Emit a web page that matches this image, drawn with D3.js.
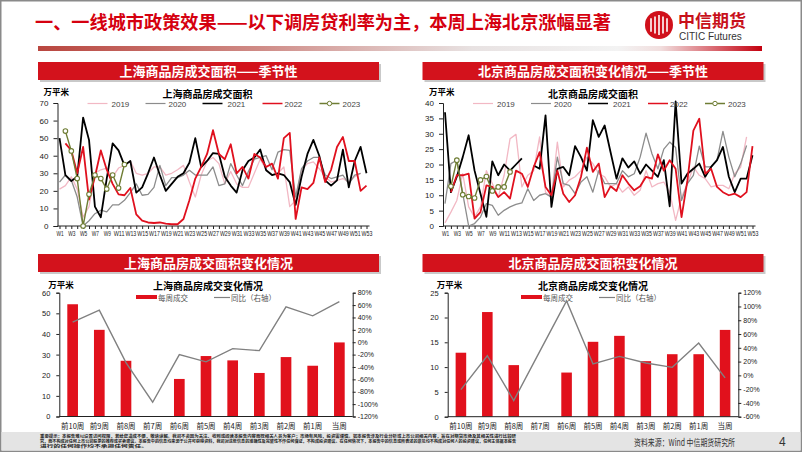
<!DOCTYPE html>
<html><head><meta charset="utf-8">
<script src="https://cdn.jsdelivr.net/npm/d3@7"></script>
<style>
body{margin:0;background:#fff}
svg{display:block}
text{font-family:"Liberation Sans","Noto Sans CJK SC",sans-serif}
.cn{font-family:"Noto Sans CJK SC","Liberation Sans",sans-serif}
</style></head><body>
<svg id="c" width="802" height="452"></svg>
<script>
// ---------------- DATA ----------------
const weeks = ["W1","W2","W3","W4","W5","W6","W7","W8","W9","W10","W11","W12","W13","W14","W15","W16","W17","W18","W19","W20","W21","W22","W23","W24","W25","W26","W27","W28","W29","W30","W31","W32","W33","W34","W35","W36","W37","W38","W39","W40","W41","W42","W43","W44","W45","W46","W47","W48","W49","W50","W51","W52","W53"];
const seasonYears = ["2019","2020","2021","2022","2023"];

const sh2019 = [21,23,28,21,5,11,30,32,33,28,33,34.5,37,30,29,30,33.6,33.6,29,30,32,34.5,25,16.5,29,37,39,35.5,24,31,24,22,22,30,38,32,29,30,33.6,11,14.6,32,35.5,36.5,32.6,28,25,26,27,25,28,30,null];
const sh2020 = [25,29,26,16.5,0,3,7,9,8,12,12,14.6,19,24,17.5,18,22,34.5,23,27.5,27.5,29,31.7,29,29,29,33.6,23,24,35.5,29,23,31,38,39,40,32,42,43.5,43,16.5,32.6,37,39,39,29,27,28,29,24,29,30,null];
const sh2021 = [50,29,25.6,28,61.7,49,11,5,27,47,43,34.5,37,19,22,30,39,29,20,24,28,30,36,50,33.5,37,41.5,41,28,23,19,31.7,37,39,43.5,31.7,29,30,29,25,12,28,41,49,40,26,23,26,43.5,22,37,45,30];
const sh2022 = [null,47,43,30,45,15,28,43,32,24,18,17.5,21.6,6.6,3,2,1.7,2,1.3,1,1,4,14.6,27,33.6,41,54.5,41,38,46.5,30,33.6,27,41,39,33.6,35.5,27,50,53,4,22,21,24.5,39,25,32,45,50.7,37,37,20,23];
const sh2023 = [null,54,42.7,27,0,18,29,27,21,29,21.6,35];

const bj2019 = [1,4.5,8.3,17,6.2,2.9,6.2,18,13.8,9.4,16.5,28.4,29.8,12.7,16.5,18,29,11,9.4,27.3,12.7,14.9,16,18,22.4,20.3,17,16,12.7,13.8,11,12.7,10,11.6,18,12.7,13.8,14.3,11,1.8,9.4,13.8,19.2,16.5,15.4,12.7,13.2,13.2,12.1,17,19.2,29,null];
const bj2020 = [7.3,20.3,21.4,10.5,0,0.8,2.9,7.3,6.7,3.5,5.1,6.2,7,7.5,12.1,8.3,10,10.5,9.4,22.4,13.8,13.2,10.5,14.3,16,11,18,13.8,13.8,13.8,18,16,17,22.4,30.2,23.5,18.6,25,27.3,25.5,8.3,13.8,16.5,26,19.2,19.2,21.4,30.8,22.4,16,20.3,26.2,null];
const bj2021 = [37,11,16,22.4,29.5,18,10.5,3,21,16.5,20,18,20,22,null,19.7,18.6,36,6.2,18.6,19.2,16.5,26,22.4,18,34.4,29,32.7,24,15.4,22,19,21,17,20,18,16,21.4,6.4,40.5,13.8,17,18.6,20.3,16,19.2,21.4,25.7,16,11,15.4,15.4,23];
const bj2022 = [null,11,16.5,16.5,17,2.4,4.5,13.2,12.7,9.4,11,8.9,18,17,12.7,19.2,24,12.7,10,18,10.5,7.8,10,16,25.5,17.6,20.3,9.4,12.9,11.4,16.5,13.8,11.6,12.9,16,15.4,23.3,18,21.4,18.6,2.9,14.9,31,34.9,17,18.6,12.7,11,10,10.5,9.4,11,26];
const bj2023 = [null,12.9,21.4,10.2,9.6,9.1,15,16.1,11.4,12.7,12.7,17.6];

const periods = ["前10周","前9周","前8周","前7周","前6周","前5周","前4周","前3周","前2周","前1周","当周"];
const shWeekly = [54.4,42,27,0,18.2,29.3,27.2,21.1,28.8,24.6,35.9];
const shYoY = [32.5,51.7,-33,-97,-20,-31.7,-10.4,-13.6,57,42.6,65.6];
const bjWeekly = [12.9,21.1,10.4,0,8.9,15.1,16.3,11.2,12.6,12.6,17.5];
const bjYoY = [-20.6,28.5,-36.5,36,108,16.5,27.5,18,11.6,46.9,-3.7];

const shLeftTicks = [0,10,20,30,40,50,60];
const shRightTicks = [-120,-100,-80,-60,-40,-20,0,20,40,60,80];
const bjLeftTicks = [0,5,10,15,20,25];
const bjRightTicks = [-60,-40,-20,0,20,40,60,80,100,120];
const shSeasonTicks = [0,10,20,30,40,50,60,70];
const bjSeasonTicks = [0,5,10,15,20,25,30,35,40];

// ---------------- STYLE ----------------
const RED = "#e1111c", HEAD = "#d3121c";
const yearColors = {"2019":"#f2b8c4","2020":"#8c8c8c","2021":"#000000","2022":"#e0101e","2023":"#6f7d34"};
const yearWidths = {"2019":1.3,"2020":1.3,"2021":1.8,"2022":1.8,"2023":1.4};

const svg = d3.select("#c");
svg.append("rect").attr("x",0.75).attr("y",0.75).attr("width",800.5).attr("height",450.5)
  .attr("fill","#fff").attr("stroke","#8a8a8a").attr("stroke-width",1.5);

// title
svg.append("text").attr("class","cn").attr("x",35).attr("y",29).attr("fill","#d5000f")
  .attr("font-size",18).attr("font-weight","bold").attr("textLength",576).attr("lengthAdjust","spacingAndGlyphs")
  .text("一、一线城市政策效果——以下调房贷利率为主，本周上海北京涨幅显著");

// logo
const logo = svg.append("g");
logo.append("circle").attr("cx",659).attr("cy",25).attr("r",14).attr("fill","#d0101b");
[-8,-4,0,4,8].forEach(dx=>{
  logo.append("line").attr("x1",659+dx).attr("x2",659+dx).attr("y1",15+Math.abs(dx)*0.4).attr("y2",35-Math.abs(dx)*0.4)
   .attr("stroke","#fff").attr("stroke-width",1.6);
});
logo.append("text").attr("class","cn").attr("x",678).attr("y",27).attr("font-size",17).attr("font-weight","bold")
  .attr("fill","#c8101a").text("中信期货");
logo.append("text").attr("x",679).attr("y",40).attr("font-size",10).attr("fill","#333").text("CITIC Futures");

// gradient bar
const defs = svg.append("defs");
const lg = defs.append("linearGradient").attr("id","gb").attr("x1","0").attr("x2","1");
[[0,"#b9463f"],[0.3,"#cf8a85"],[0.6,"#e8e2e2"],[0.8,"#f3f3f3"],[0.86,"#f1dede"],[1,"#c4000f"]].forEach(s=>
  lg.append("stop").attr("offset",s[0]).attr("stop-color",s[1]));
svg.append("rect").attr("x",38).attr("y",46).attr("width",724).attr("height",5).attr("fill","url(#gb)");

function header(x0,x1,y0,y1,txt){
  svg.append("rect").attr("x",x0+2).attr("y",y0+2).attr("width",x1-x0).attr("height",y1-y0).attr("fill","#c9c9c9");
  svg.append("rect").attr("x",x0).attr("y",y0).attr("width",x1-x0).attr("height",y1-y0).attr("fill",HEAD);
  svg.append("text").attr("class","cn").attr("x",(x0+x1)/2).attr("y",(y0+y1)/2+4.5).attr("text-anchor","middle")
    .attr("fill","#fff").attr("font-size",13).attr("font-weight","bold").text(txt);
}

function styleAxis(g,fs){
  g.selectAll("path.domain").attr("stroke","#222").attr("stroke-width",1);
  g.selectAll(".tick line").attr("stroke","#222");
  g.selectAll(".tick text").attr("fill","#222").attr("font-size",fs);
}

function seasonal(o){
  header(o.hx0,o.hx0+341,62,80,o.header);
  const x = d3.scalePoint().domain(weeks).range([o.x0,o.x1]);
  const y = d3.scaleLinear().domain([0,o.yMax]).range([226,103]);
  svg.append("text").attr("class","cn").attr("x",o.ax-14).attr("y",95).attr("font-size",8.5).attr("font-weight","bold").text("万平米");
  svg.append("text").attr("class","cn").attr("x",o.ax+150).attr("y",98).attr("text-anchor","middle")
    .attr("font-size",10).attr("font-weight","bold").text(o.title);
  // axes
  const gy = svg.append("g").attr("transform",`translate(${o.ax},0)`)
    .call(d3.axisLeft(y).tickValues(o.ticks).tickSize(4).tickPadding(5).tickFormat(d=>d));
  styleAxis(gy,8);
  const gx = svg.append("g").attr("transform","translate(0,226)")
    .call(d3.axisBottom(x).tickSize(3).tickPadding(2).tickFormat((d,i)=> i%2===0 ? d : ""));
  gx.select("path.domain").remove();
  styleAxis(gx,6.5);
  gx.selectAll(".tick text").each(function(){
    const t = d3.select(this).text();
    if(t) d3.select(this).attr("textLength",t.length*3.6).attr("lengthAdjust","spacingAndGlyphs");
  });
  svg.append("line").attr("x1",o.ax).attr("x2",o.x1+3).attr("y1",226).attr("y2",226).attr("stroke","#222");
  // lines
  const line = d3.line().defined(d=>d!=null).x((d,i)=>x(weeks[i])).y(d=>y(d));
  o.series.forEach((s,k)=>{
    const yr = seasonYears[k];
    svg.append("path").datum(s).attr("d",line).attr("fill","none")
      .attr("stroke",yearColors[yr]).attr("stroke-width",yearWidths[yr]).attr("stroke-linejoin","round");
    if(yr==="2023"){
      svg.selectAll(null).data(s.map((v,i)=>[v,i]).filter(d=>d[0]!=null)).enter().append("circle")
        .attr("cx",d=>x(weeks[d[1]])).attr("cy",d=>y(d[0])).attr("r",2.3)
        .attr("fill","#fff").attr("stroke",yearColors[yr]).attr("stroke-width",1.1);
    }
  });
  // legend
  const offs = [[30,54],[88,111],[145,170],[205,227],[262,285]];
  seasonYears.forEach((yr,k)=>{
    const lx = o.ax+offs[k][0];
    svg.append("line").attr("x1",lx).attr("x2",lx+20).attr("y1",103.5).attr("y2",103.5)
      .attr("stroke",yearColors[yr]).attr("stroke-width",yr==="2019"||yr==="2020"?1.2:1.5);
    if(yr==="2023") svg.append("circle").attr("cx",lx+10).attr("cy",103.5).attr("r",2.2).attr("fill","#fff").attr("stroke",yearColors[yr]);
    svg.append("text").attr("x",o.ax+offs[k][1]).attr("y",106.5).attr("font-size",8).attr("fill","#444").text(yr);
  });
}

seasonal({hx0:38,header:"上海商品房成交面积——季节性",title:"上海商品房成交面积",ax:57.5,x0:59.5,x1:366.5,yMax:70,ticks:shSeasonTicks,
  series:[sh2019,sh2020,sh2021,sh2022,sh2023]});
seasonal({hx0:422.5,header:"北京商品房成交面积变化情况——季节性",title:"北京商品房成交面积",ax:443,x0:445,x1:752.5,yMax:40,ticks:bjSeasonTicks,
  series:[bj2019,bj2020,bj2021,bj2022,bj2023]});

function barChart(o){
  header(o.hx0,o.hx0+341,254,272,o.header);
  const x = d3.scaleBand().domain(periods).range([o.ax,o.rx]).paddingInner(0.6).paddingOuter(0.3);
  const yl = d3.scaleLinear().domain(o.lDom).range([o.y0,292.7]);
  const yr = d3.scaleLinear().domain(o.rDom).range([o.y0,292.7]);
  svg.append("text").attr("class","cn").attr("x",o.ax-11).attr("y",288).attr("font-size",8.5).attr("font-weight","bold").text("万平米");
  svg.append("text").attr("class","cn").attr("x",o.tx).attr("y",289.5).attr("text-anchor","middle")
    .attr("font-size",10).attr("font-weight","bold").text(o.title);
  // legend
  svg.append("rect").attr("x",o.tx-72).attr("y",295).attr("width",21).attr("height",4).attr("fill",RED);
  svg.append("text").attr("class","cn").attr("x",o.tx-50).attr("y",300.5).attr("font-size",7.5).attr("fill","#555").text("每周成交");
  svg.append("line").attr("x1",o.tx+6).attr("x2",o.tx+22).attr("y1",297.5).attr("y2",297.5).attr("stroke","#808080").attr("stroke-width",1.2);
  svg.append("text").attr("class","cn").attr("x",o.tx+23).attr("y",300.5).attr("font-size",7.5).attr("fill","#555").text("同比（右轴）");
  // bars
  svg.selectAll(null).data(o.bars).enter().append("rect")
    .attr("x",(d,i)=>x(periods[i])).attr("width",x.bandwidth())
    .attr("y",d=>yl(d)).attr("height",d=>o.y0-yl(d)).attr("fill",RED);
  // axes
  const gl = svg.append("g").attr("transform",`translate(${o.ax},0)`)
    .call(d3.axisLeft(yl).tickValues(o.lTicks).tickSize(3).tickPadding(6));
  styleAxis(gl,7.5);
  const gr = svg.append("g").attr("transform",`translate(${o.rx},0)`)
    .call(d3.axisRight(yr).tickValues(o.rTicks).tickSize(3).tickPadding(2).tickFormat(d=>d+"%"));
  styleAxis(gr,7);
  svg.append("line").attr("x1",o.ax).attr("x2",o.rx).attr("y1",o.y0).attr("y2",o.y0).attr("stroke","#222");
  const gx = svg.append("g").attr("transform",`translate(0,${o.y0})`).call(d3.axisBottom(x).tickSize(0).tickPadding(7));
  gx.select("path.domain").remove();
  styleAxis(gx,7.5);
  gx.selectAll(".tick text").attr("class","cn");
  // yoy line
  const line = d3.line().x((d,i)=>x(periods[i])+x.bandwidth()/2).y(d=>yr(d));
  svg.append("path").datum(o.yoy).attr("d",line).attr("fill","none").attr("stroke","#808080").attr("stroke-width",1.4);
}

barChart({hx0:38,header:"上海商品房成交面积变化情况",title:"上海商品房成交变化情况",tx:208,ax:59.3,rx:352.7,y0:416.5,
  lDom:[0,60],rDom:[-120,80],lTicks:shLeftTicks,rTicks:shRightTicks,bars:shWeekly,yoy:shYoY});
barChart({hx0:422.5,header:"北京商品房成交面积变化情况",title:"北京商品房成交变化情况",tx:593,ax:447.7,rx:738.3,y0:416.7,
  lDom:[0,25],rDom:[-60,120],lTicks:bjLeftTicks,rTicks:bjRightTicks,bars:bjWeekly,yoy:bjYoY});

// footer
svg.append("rect").attr("x",1.5).attr("y",432).attr("width",799).attr("height",18.5).attr("fill","#e4e4e4");
const disc = [
 ["重要提示：本报告难以设置访问权限，若给您造成不便，敬请谅解。我司不会因为关注、收到或阅读本报告内容而视相关人员为客户；市场有风险，投资需谨慎。如本报告涉及行业分析或上市公司相关内容，旨在对期货市场及其相关性进行比较研",476],
 ["究，而不构成对任何上市公司股票的推荐或买卖建议。本报告中的信息均来源于公开可获得资料，我司对这些信息的准确性及完整性不作任何保证，不构成投资建议。在任何情况下，本报告中的信息或所表述的意见均不构成对任何人的投资建议，任何主体据本报告",476],
 ["进行的任何操作均不承担任何责任。",108]];
disc.forEach((d,i)=>{
  svg.append("text").attr("class","cn").attr("x",40).attr("y",438+i*5.2).attr("font-size",4).attr("font-weight","bold")
   .attr("fill","#222").attr("textLength",d[1]).attr("lengthAdjust","spacingAndGlyphs").text(d[0]);
});
svg.append("text").attr("class","cn").attr("x",634).attr("y",446).attr("font-size",9.5).attr("fill","#333")
  .attr("textLength",101).attr("lengthAdjust","spacingAndGlyphs").text("资料来源：Wind 中信期货研究所");
svg.append("text").attr("x",779).attr("y",446).attr("font-size",12).attr("fill","#333").text("4");
</script>
</body></html>
